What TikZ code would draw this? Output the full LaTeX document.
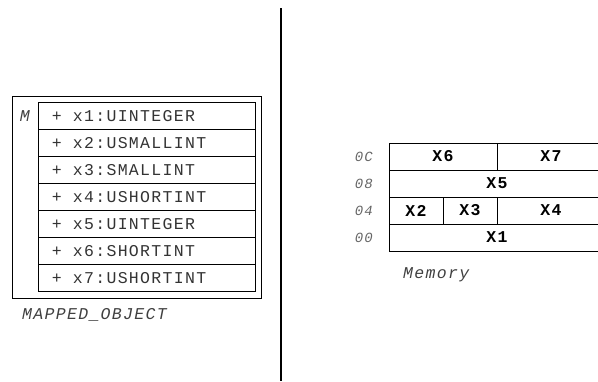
\documentclass[tikz,border=0pt]{standalone}
\usepackage{fontspec}
\usepackage{xcolor}
\usepackage{tikz}
\usetikzlibrary{positioning}
\newfontfamily\codefont[LetterSpace=8]{Liberation Mono}
\newcommand\pubmark{+\hspace{11pt}}
\tikzset{
    field/.style={rectangle, draw, line width=1pt, outer sep=0pt, minimum height=26.9pt, text width=189pt, inner xsep=14pt, inner ysep=0pt, align=left, font=\codefont\fontsize{16.5}{18}\selectfont, text=black!80},
    objbox/.style={rectangle, draw, line width=1pt, outer sep=0pt, minimum width=249pt, minimum height=202pt},
    memcell/.style={rectangle, draw, line width=1pt, outer sep=0pt, minimum height=27pt, inner sep=0pt, font=\codefont\bfseries\fontsize{16.5}{18}\selectfont},
    addr/.style={inner sep=0pt, font=\codefont\itshape\fontsize{14}{16}\selectfont, text=black!60},
    caption/.style={inner sep=0pt, font=\codefont\itshape\fontsize{16.5}{18}\selectfont, text=black!75},
    divider/.style={line width=2pt},
}
\begin{document}
\begin{tikzpicture}[x=1pt, y=-1pt]
    \useasboundingbox (0,0) rectangle (598,381);
    % mapped object
    \node[objbox] (obj) at (136.5,197) {};
    \node[field] (r1) at (146.5,116.4) {\pubmark x1:UINTEGER};
    \node[field, below=0pt of r1] (r2) {\pubmark x2:USMALLINT};
    \node[field, below=0pt of r2] (r3) {\pubmark x3:SMALLINT};
    \node[field, below=0pt of r3] (r4) {\pubmark x4:USHORTINT};
    \node[field, below=0pt of r4] (r5) {\pubmark x5:UINTEGER};
    \node[field, below=0pt of r5] (r6) {\pubmark x6:SHORTINT};
    \node[field, below=0pt of r6] (r7) {\pubmark x7:USHORTINT};
    \node[caption, left=8pt of r1] (m) {M};
    \node[caption, below right=10pt and 10pt of obj.south west] (objname) {MAPPED\_OBJECT};

    % divider
    \coordinate (divtop) at (281,8);
    \coordinate (divbot) at (281,381);
    \draw[divider] (divtop) -- (divbot);

    % memory layout
    \node[memcell, minimum width=216pt] (x1) at (497,237.5) {X1};
    \node[memcell, minimum width=54pt, above right=0pt and 0pt of x1.north west] (x2) {X2};
    \node[memcell, minimum width=54pt, right=0pt of x2] (x3) {X3};
    \node[memcell, minimum width=108pt, right=0pt of x3] (x4) {X4};
    \node[memcell, minimum width=216pt, above right=0pt and 0pt of x2.north west] (x5) {X5};
    \node[memcell, minimum width=108pt, above right=0pt and 0pt of x5.north west] (x6) {X6};
    \node[memcell, minimum width=108pt, right=0pt of x6] (x7) {X7};
    \node[addr, left=16pt of x1] (a00) {00};
    \node[addr, left=16pt of x2] (a04) {04};
    \node[addr, left=16pt of x5] (a08) {08};
    \node[addr, left=16pt of x6] (a0c) {0C};
    \node[caption, below right=16pt and 14pt of x1.south west] (memname) {Memory};
\end{tikzpicture}
\end{document}
